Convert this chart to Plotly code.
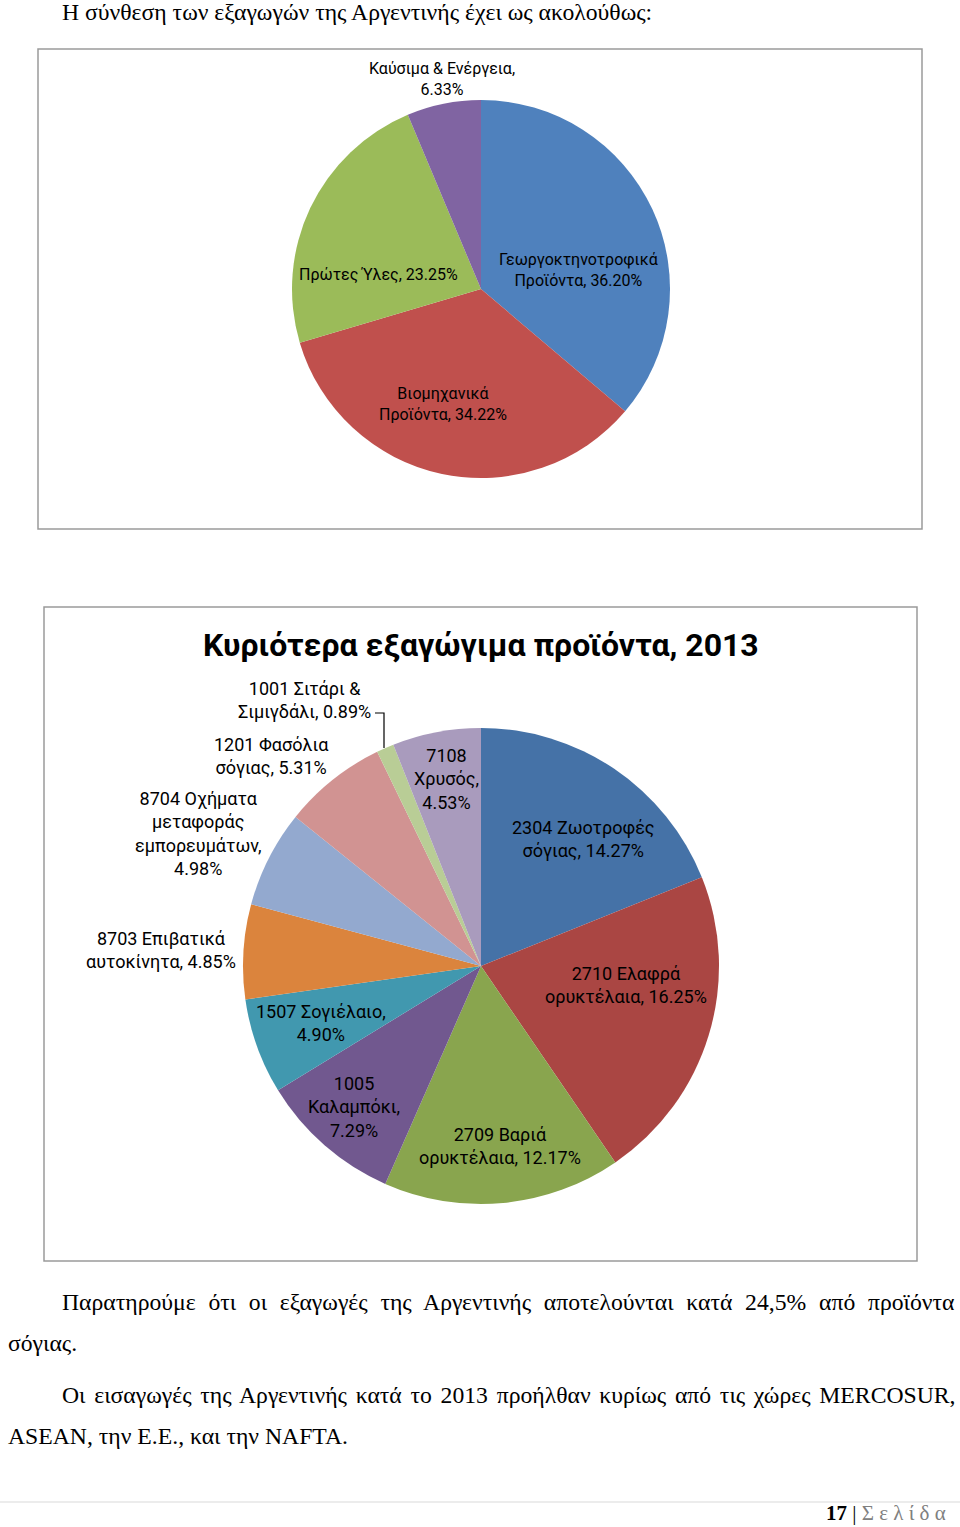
import plotly.graph_objects as go

W, H = 960, 1527

# ---------------- data ----------------
cat1 = ["Γεωργοκτηνοτροφικά Προϊόντα", "Βιομηχανικά Προϊόντα", "Πρώτες Ύλες", "Καύσιμα & Ενέργεια"]
val1 = [36.20, 34.22, 23.25, 6.33]

cat2 = ["2304 Ζωοτροφές σόγιας", "2710 Ελαφρά ορυκτέλαια", "2709 Βαριά ορυκτέλαια",
        "1005 Καλαμπόκι", "1507 Σογιέλαιο", "8703 Επιβατικά αυτοκίνητα",
        "8704 Οχήματα μεταφοράς εμπορευμάτων", "1201 Φασόλια σόγιας",
        "1001 Σιτάρι & Σιμιγδάλι", "7108 Χρυσός"]
val2 = [14.27, 16.25, 12.17, 7.29, 4.90, 4.85, 4.98, 5.31, 0.89, 4.53]

title2 = "Κυριότερα εξαγώγιμα προϊόντα, 2013"

# ---------------- styles / layout helpers ----------------
col1 = ["#4F81BD", "#C0504D", "#9BBB59", "#8064A2"]
col2 = ["#4572A7", "#AA4643", "#89A54E", "#71588F", "#4198AF",
        "#DB843D", "#93A9CF", "#D19392", "#B9CD96", "#A99BBD"]

def px(x):
    return x / W

def py(y):
    return 1 - y / H

def domain(cx, cy, r):
    return dict(x=[px(cx - r), px(cx + r)], y=[py(cy + r), py(cy - r)])

# wrapped label templates (line breaks only) and label centre positions (pixels)
wrap1 = ["Γεωργοκτηνοτροφικά<br>Προϊόντα, {}", "Βιομηχανικά<br>Προϊόντα, {}",
         "Πρώτες Ύλες, {}", "Καύσιμα & Ενέργεια,<br>{}"]
pos1 = [(578, 270), (443, 404), (378, 274), (442, 79)]

wrap2 = ["2304 Ζωοτροφές<br>σόγιας, {}", "2710 Ελαφρά<br>ορυκτέλαια, {}",
         "2709 Βαριά<br>ορυκτέλαια, {}", "1005<br>Καλαμπόκι,<br>{}",
         "1507 Σογιέλαιο,<br>{}", "8703 Επιβατικά<br>αυτοκίνητα, {}",
         "8704 Οχήματα<br>μεταφοράς<br>εμπορευμάτων,<br>{}", "1201 Φασόλια<br>σόγιας, {}",
         "1001 Σιτάρι &<br>Σιμιγδάλι, {}", "7108<br>Χρυσός,<br>{}"]
pos2 = [(583, 839), (626, 985), (500, 1146), (354, 1107), (321, 1023),
        (161, 950), (198, 833), (271, 756), (304, 700), (446, 779)]

LABEL_FONT = "Roboto"
SERIF = "Liberation Serif"

fig = go.Figure()

fig.add_trace(go.Pie(
    labels=cat1, values=val1, sort=False, direction="clockwise", rotation=0,
    marker=dict(colors=col1, line=dict(width=0)),
    textinfo="none", hoverinfo="label+percent", showlegend=False,
    domain=domain(481, 289, 189)))

fig.add_trace(go.Pie(
    labels=cat2, values=val2, sort=False, direction="clockwise", rotation=0,
    marker=dict(colors=col2, line=dict(width=0)),
    textinfo="none", hoverinfo="label+percent", showlegend=False,
    domain=domain(481, 966, 238)))

ann = []
for t, v, (x, y) in zip(wrap1, val1, pos1):
    ann.append(dict(text=t.format(f"{v:.2f}%"), x=px(x), y=py(y), xref="paper", yref="paper",
                    showarrow=False, font=dict(family=LABEL_FONT, size=16, color="#000"),
                    align="center", xanchor="center", yanchor="middle"))
for t, v, (x, y) in zip(wrap2, val2, pos2):
    ann.append(dict(text=t.format(f"{v:.2f}%"), x=px(x), y=py(y), xref="paper", yref="paper",
                    showarrow=False, font=dict(family=LABEL_FONT, size=18, color="#000"),
                    align="center", xanchor="center", yanchor="middle"))

ann.append(dict(text=f"<b>{title2}</b>", x=px(481), y=py(645), xref="paper", yref="paper",
                showarrow=False, font=dict(family=LABEL_FONT, size=32, color="#000"),
                xanchor="center", yanchor="middle"))

# body text (word spacing used to imitate the justified paragraph lines)
body = [
    ("Η σύνθεση των εξαγωγών της Αργεντινής έχει ως ακολούθως:", 60, 12, 0),
    ("Παρατηρούμε ότι οι εξαγωγές της Αργεντινής αποτελούνται κατά 24,5% από προϊόντα", 60, 1302, 6.8),
    ("σόγιας.", 6, 1343, 0),
    ("Οι εισαγωγές της Αργεντινής κατά το 2013 προήλθαν κυρίως από τις χώρες MERCOSUR,", 60, 1395, 2.8),
    ("ASEAN, την Ε.Ε., και την NAFTA.", 6, 1436, 0),
]
for t, x, y, ws in body:
    txt = f"<span style='word-spacing:{ws}px'>{t}</span>" if ws else t
    ann.append(dict(text=txt, x=px(x), y=py(y), xref="paper", yref="paper", showarrow=False,
                    font=dict(family=SERIF, size=23.7, color="#000"),
                    xanchor="left", yanchor="middle"))

ann.append(dict(text="<b>17</b> | <span style='color:#808080'>Σ ε λ ί δ α</span>",
                x=px(948), y=0, xref="paper", yref="paper", showarrow=False,
                font=dict(family=SERIF, size=21, color="#000"),
                xanchor="right", yanchor="bottom"))

shapes = [
    dict(type="rect", xref="paper", yref="paper", x0=px(38), x1=px(922), y0=py(49), y1=py(529),
         line=dict(color="#9a9a9a", width=1.5), layer="below"),
    dict(type="rect", xref="paper", yref="paper", x0=px(44), x1=px(917), y0=py(607), y1=py(1261),
         line=dict(color="#9a9a9a", width=1.5), layer="below"),
    dict(type="line", xref="paper", yref="paper", x0=0, x1=1, y0=py(1502), y1=py(1502),
         line=dict(color="#d9d9d9", width=1)),
    dict(type="path", xref="paper", yref="paper",
         path=f"M {px(375)},{py(713)} L {px(384)},{py(713)} L {px(384)},{py(748)}",
         line=dict(color="#000", width=1.2)),
]

fig.update_layout(width=W, height=H, margin=dict(l=0, r=0, t=0, b=0),
                  paper_bgcolor="white", plot_bgcolor="white",
                  annotations=ann, shapes=shapes)

fig.write_html("out.html")
